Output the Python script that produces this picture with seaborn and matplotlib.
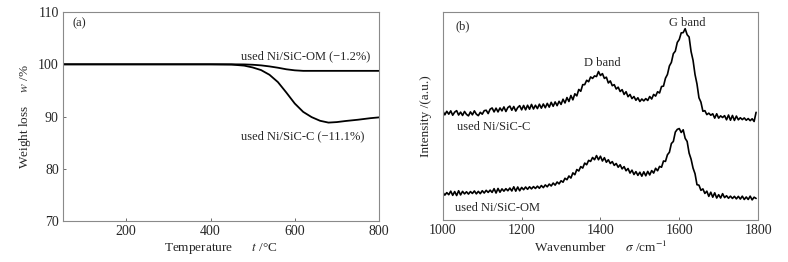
import numpy as np
import pandas as pd
import matplotlib
matplotlib.use("Agg")
import matplotlib.pyplot as plt
import seaborn as sns

# ---- (a) TGA data ----
tga_temp = [50, 100, 200, 300, 400, 450, 480, 500, 520, 540, 560, 580, 600,
            620, 640, 660, 680, 700, 720, 750, 780, 800]
tga_om = [100.0, 100.0, 100.0, 100.0, 100.0, 100.0, 99.98, 99.92, 99.8, 99.6,
          99.35, 99.05, 98.85, 98.75, 98.75, 98.75, 98.75, 98.75, 98.75, 98.75,
          98.75, 98.75]
tga_c = [100.0, 100.0, 100.0, 100.0, 100.0, 99.95, 99.75, 99.4, 98.9, 98.0,
         96.6, 94.6, 92.5, 90.9, 89.9, 89.2, 88.85, 88.95, 89.15, 89.4,
         89.7, 89.85]

# ---- (b) Raman spectra (arbitrary units) ----
raman_x = np.arange(1000, 1800, 5)
raman_c = [52.4, 50.6, 52.3, 50.9, 52.5, 50.4, 51.9, 52.6, 50.5, 51.9,
           50.3, 52.2, 50.8, 50.1, 52.0, 50.6, 52.5, 50.9, 50.2, 51.8,
           50.9, 52.6, 52.8, 51.2, 53.3, 53.9, 52.0, 53.8, 52.0, 53.9,
           52.5, 54.4, 52.2, 54.1, 54.8, 52.8, 54.6, 52.4, 54.1, 55.0,
           53.0, 55.1, 53.0, 55.2, 53.3, 55.6, 53.4, 55.2, 53.6, 55.7,
           53.8, 55.8, 54.0, 56.1, 54.3, 56.6, 54.7, 56.8, 55.0, 57.1,
           55.6, 58.1, 56.3, 58.9, 57.0, 59.9, 57.8, 60.7, 59.7, 62.8,
           61.9, 65.1, 65.1, 67.2, 66.5, 68.8, 68.1, 69.3, 69.0, 71.4,
           69.5, 70.4, 68.1, 68.7, 65.9, 66.9, 64.6, 65.1, 63.0, 63.9,
           61.8, 62.7, 60.4, 61.7, 59.3, 60.4, 58.4, 59.4, 57.6, 58.8,
           57.0, 58.2, 57.3, 58.4, 57.5, 59.4, 58.2, 60.4, 59.6, 61.7,
           61.1, 64.2, 64.4, 68.2, 70.0, 74.1, 75.8, 80.0, 81.2, 85.4,
           86.8, 90.0, 90.1, 92.0, 89.1, 88.0, 81.0, 76.8, 70.0, 65.4,
           58.8, 56.7, 52.3, 52.6, 50.7, 51.4, 50.4, 51.1, 49.0, 51.1,
           49.0, 50.1, 49.3, 50.2, 48.2, 50.5, 48.0, 50.3, 47.9, 50.0,
           48.2, 49.2, 48.3, 49.1, 48.0, 48.8, 47.8, 48.7, 47.4, 51.8]
raman_om = [13.3, 12.0, 13.2, 12.2, 13.9, 11.9, 13.7, 11.8, 14.1, 12.1,
            13.8, 12.6, 13.6, 12.5, 13.7, 12.8, 14.0, 12.6, 13.8, 12.7,
            14.1, 13.0, 14.3, 13.3, 14.4, 13.3, 15.1, 13.0, 15.2, 13.4,
            15.0, 13.9, 15.1, 14.1, 15.4, 14.0, 16.0, 13.9, 15.9, 14.1,
            15.7, 14.6, 15.9, 14.8, 16.0, 15.0, 16.1, 15.2, 16.3, 15.3,
            16.6, 15.6, 16.9, 16.0, 17.3, 16.4, 17.8, 16.8, 18.3, 17.4,
            18.9, 18.2, 20.1, 19.4, 21.2, 20.2, 22.7, 21.8, 24.3, 23.6,
            25.7, 25.0, 27.4, 26.6, 28.7, 28.2, 30.1, 29.0, 31.0, 29.0,
            30.7, 28.4, 30.0, 27.8, 29.0, 27.2, 28.1, 26.3, 27.2, 25.4,
            26.6, 24.6, 25.7, 23.7, 24.8, 22.6, 24.0, 21.9, 23.3, 21.5,
            23.0, 21.1, 23.2, 21.3, 23.4, 21.7, 23.8, 22.6, 24.9, 23.7,
            25.8, 25.4, 28.4, 28.2, 31.4, 32.6, 36.8, 37.8, 42.3, 43.6,
            44.0, 42.1, 43.4, 39.3, 37.8, 32.2, 29.3, 25.0, 22.3, 17.0,
            16.8, 14.3, 15.0, 12.8, 13.9, 11.4, 13.4, 11.0, 13.1, 10.6,
            12.2, 10.6, 12.7, 10.8, 11.7, 10.5, 11.5, 10.4, 11.4, 10.2,
            11.4, 10.1, 11.5, 9.9, 11.1, 9.9, 11.5, 9.7, 11.0, 10.4]

sns.set_style("ticks")
plt.rcParams["font.family"] = ["Liberation Serif", "DejaVu Serif"]
plt.rcParams["mathtext.fontset"] = "stix"
plt.rcParams["xtick.direction"] = "in"
plt.rcParams["ytick.direction"] = "in"

fig = plt.figure(figsize=(7.88, 2.62), dpi=100)
ax1 = fig.add_axes([0.080, 0.156, 0.401, 0.798])
ax2 = fig.add_axes([0.562, 0.160, 0.400, 0.794])

fs_tick = 10
fs_lab = 9.5
fs_txt = 9
spine_col = "#8a8a8a"

# (a) TGA
sns.lineplot(x=tga_temp, y=tga_om, ax=ax1, color="black", linewidth=1.3)
sns.lineplot(x=tga_temp, y=tga_c, ax=ax1, color="black", linewidth=1.3)
ax1.set_xlim(50, 800)
ax1.set_ylim(70, 110)
ax1.set_xticks([200, 400, 600, 800])
ax1.set_yticks([70, 80, 90, 100, 110])
ax1.set_xlabel("Temperature      $\\mathit{t}$ /°C", fontsize=fs_lab, labelpad=2)
ax1.set_ylabel("Weight loss    $\\mathit{w}$ /%", fontsize=fs_lab, labelpad=4)
ax1.text(73, 107.8, "(a)", fontsize=fs_txt, va="center")
ax1.text(472, 101.6, "used Ni/SiC-OM (\u22121.2%)", fontsize=fs_txt, va="center")
ax1.text(472, 86.2, "used Ni/SiC-C (\u221211.1%)", fontsize=fs_txt, va="center")

# (b) Raman
sns.lineplot(x=raman_x, y=raman_c, ax=ax2, color="black", linewidth=1.2)
sns.lineplot(x=raman_x, y=raman_om, ax=ax2, color="black", linewidth=1.2)
ax2.set_xlim(1000, 1800)
ax2.set_ylim(0, 100)
ax2.set_xticks([1000, 1200, 1400, 1600, 1800])
ax2.set_yticks([])
ax2.set_xlabel("Wavenumber      $\\sigma$ /cm$^{-1}$", fontsize=fs_lab, labelpad=2)
ax2.set_ylabel("Intensity /(a.u.)", fontsize=fs_lab, labelpad=8)
ax2.text(1031, 93, "(b)", fontsize=fs_txt, va="center")
ax2.text(1620, 94.5, "G band", fontsize=fs_txt, ha="center", va="center")
ax2.text(1405, 75.4, "D band", fontsize=fs_txt, ha="center", va="center")
ax2.text(1036, 44.6, "used Ni/SiC-C", fontsize=fs_txt, va="center")
ax2.text(1031, 5.8, "used Ni/SiC-OM", fontsize=fs_txt, va="center")

for ax in (ax1, ax2):
    for sp in ax.spines.values():
        sp.set_color(spine_col)
        sp.set_linewidth(0.8)
    ax.tick_params(labelsize=fs_tick, length=2.5, width=0.6, color="#555555", pad=3)

fig.savefig("out.png", dpi=100)
